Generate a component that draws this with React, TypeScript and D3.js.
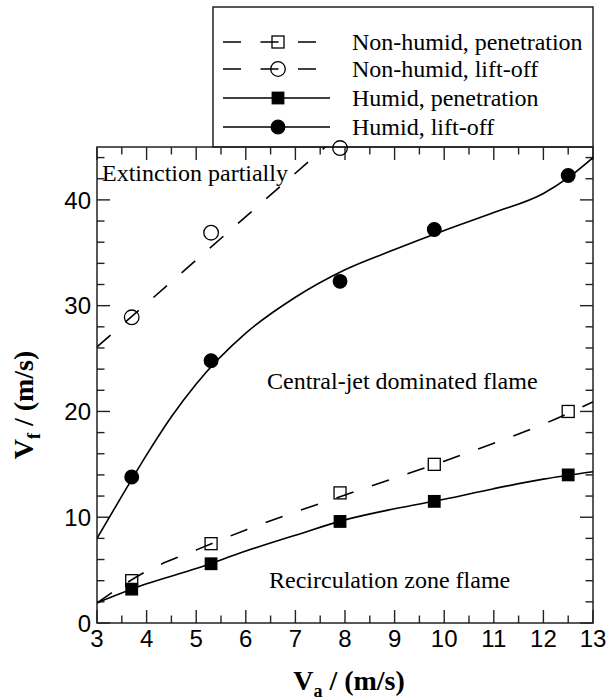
import { useEffect, useRef } from "react";
import * as d3 from "d3";

const WIDTH = 610;
const HEIGHT = 700;
const FRAME = { left: 97, right: 593, top: 147, bottom: 623 };
const LEGEND = { left: 213, top: 7 };

const SERIF = "'Liberation Serif', 'Times New Roman', serif";
const SANS = "'Liberation Sans', Arial, sans-serif";

// measured points (V_a in m/s)
const airVelocity = [3.7, 5.3, 7.9, 9.8, 12.5];
const nonHumidPenetration = [4.0, 7.5, 12.3, 15.0, 20.0];
const nonHumidLiftOff = [28.9, 36.9, 44.9]; // only the first three velocities
const humidPenetration = [3.2, 5.6, 9.6, 11.5, 14.0];
const humidLiftOff = [13.8, 24.8, 32.3, 37.2, 42.3];

// fitted curves
const fitVelocity = [3, 4, 5, 6, 7, 8, 9, 10, 11, 12, 13];
const nonHumidPenetrationFit = [1.9, 4.9, 6.9, 8.8, 10.5, 12.1, 13.7, 15.3, 17.0, 18.8, 20.9];
const humidPenetrationFit = [1.9, 3.7, 5.15, 6.8, 8.3, 9.75, 10.8, 11.7, 12.7, 13.6, 14.3];
const liftOffFitVelocity = [3, 3.5, 4, 4.5, 5, 6, 7, 8, 9, 10, 11, 12, 12.5, 13];
const humidLiftOffFit = [8.0, 12.0, 15.9, 19.5, 22.6, 27.4, 30.8, 33.4, 35.3, 37.1, 38.8, 40.6, 42.1, 44.0];
const nonHumidLineVelocity = [3, 7.7];
const nonHumidLiftOffFit = [26.1, 45.4];

const xMajorTicks = d3.range(3, 14, 1);
const xMinorTicks = d3.range(3.5, 13, 1);
const yMajorTicks = [0, 10, 20, 30, 40];
const yMinorTicks = [2, 4, 6, 8, 12, 14, 16, 18, 22, 24, 26, 28, 32, 34, 36, 38, 42, 44];

const legendLabels = [
  "Non-humid, penetration",
  "Non-humid, lift-off",
  "Humid, penetration",
  "Humid, lift-off",
];
const legendRows = [42, 69, 98, 127];

type Marker = "openSquare" | "openCircle" | "square" | "circle";
const series: { ys: number[]; marker: Marker; dashed: boolean }[] = [
  { ys: nonHumidPenetration, marker: "openSquare", dashed: true },
  { ys: nonHumidLiftOff, marker: "openCircle", dashed: true },
  { ys: humidPenetration, marker: "square", dashed: false },
  { ys: humidLiftOff, marker: "circle", dashed: false },
];
const DASH = "18,19.5";

const drawMarker = (
  g: d3.Selection<SVGGElement, unknown, null, undefined>,
  marker: Marker,
  cx: number,
  cy: number
) => {
  if (marker === "openSquare" || marker === "square") {
    const s = marker === "square" ? 11.5 : 12;
    g.append("rect")
      .attr("x", cx - s / 2)
      .attr("y", cy - s / 2)
      .attr("width", s)
      .attr("height", s)
      .attr("fill", marker === "square" ? "#000" : "none")
      .attr("stroke", "#000")
      .attr("stroke-width", 1.3);
  } else {
    g.append("circle")
      .attr("cx", cx)
      .attr("cy", cy)
      .attr("r", marker === "circle" ? 6.8 : 7.3)
      .attr("fill", marker === "circle" ? "#000" : "none")
      .attr("stroke", "#000")
      .attr("stroke-width", 1.3);
  }
};

const App = () => {
  const svgRef = useRef<SVGSVGElement | null>(null);

  useEffect(() => {
    const svg = d3.select(svgRef.current);
    svg.selectAll("*").remove();

    const x = d3.scaleLinear().domain([3, 13]).range([FRAME.left, FRAME.right]);
    const y = d3.scaleLinear().domain([0, 45]).range([FRAME.bottom, FRAME.top]);

    svg.append("rect").attr("width", WIDTH).attr("height", HEIGHT).attr("fill", "#fff");

    // legend box sits on top of the frame
    const legend = svg.append("g");
    legend
      .append("rect")
      .attr("x", LEGEND.left)
      .attr("y", LEGEND.top)
      .attr("width", FRAME.right - LEGEND.left)
      .attr("height", FRAME.top - LEGEND.top)
      .attr("fill", "#fff")
      .attr("stroke", "#222")
      .attr("stroke-width", 1.5);

    legendLabels.forEach((label, i) => {
      const ry = legendRows[i];
      legend
        .append("line")
        .attr("x1", 223)
        .attr("x2", 330)
        .attr("y1", ry)
        .attr("y2", ry)
        .attr("stroke", "#000")
        .attr("stroke-width", 1.6)
        .attr("stroke-dasharray", series[i].dashed ? DASH : null);
      drawMarker(legend, series[i].marker, 278, ry);
      const t = legend
        .append("text")
        .attr("x", 352)
        .attr("y", ry + 8)
        .attr("font-family", SERIF)
        .attr("font-size", 24)
        .text(label);
      // keep the longest entry inside the box like the original
      const w = (t.node() as SVGTextElement).getComputedTextLength();
      if (i === 0 && w > 232) t.attr("font-size", (24 * 231) / w);
    });

    // frame
    svg
      .append("rect")
      .attr("x", FRAME.left)
      .attr("y", FRAME.top)
      .attr("width", FRAME.right - FRAME.left)
      .attr("height", FRAME.bottom - FRAME.top)
      .attr("fill", "none")
      .attr("stroke", "#222")
      .attr("stroke-width", 1.5);

    const ticks = svg.append("g").attr("stroke", "#222").attr("stroke-width", 1.4);
    const xTick = (vals: number[], len: number) => {
      vals.forEach((v) => {
        ticks.append("line").attr("x1", x(v)).attr("x2", x(v)).attr("y1", FRAME.bottom).attr("y2", FRAME.bottom - len);
        ticks.append("line").attr("x1", x(v)).attr("x2", x(v)).attr("y1", FRAME.top).attr("y2", FRAME.top + len);
      });
    };
    const yTick = (vals: number[], len: number) => {
      vals.forEach((v) => {
        ticks.append("line").attr("y1", y(v)).attr("y2", y(v)).attr("x1", FRAME.left).attr("x2", FRAME.left + len);
        ticks.append("line").attr("y1", y(v)).attr("y2", y(v)).attr("x1", FRAME.right).attr("x2", FRAME.right - len);
      });
    };
    xTick(xMajorTicks, 13);
    xTick(xMinorTicks, 7.5);
    yTick(yMajorTicks, 13);
    yTick(yMinorTicks, 7.5);

    svg
      .append("g")
      .selectAll("text")
      .data(xMajorTicks)
      .join("text")
      .attr("x", (d) => x(d))
      .attr("y", 647)
      .attr("text-anchor", "middle")
      .attr("font-family", SANS)
      .attr("font-size", 24)
      .text((d) => d);

    svg
      .append("g")
      .selectAll("text")
      .data(yMajorTicks)
      .join("text")
      .attr("x", 91)
      .attr("y", (d) => y(d))
      .attr("dy", "0.36em")
      .attr("text-anchor", "end")
      .attr("font-family", SANS)
      .attr("font-size", 24)
      .text((d) => d);

    // axis titles
    const xTitle = svg
      .append("text")
      .attr("x", (FRAME.left + FRAME.right) / 2 + 4)
      .attr("y", 690)
      .attr("text-anchor", "middle")
      .attr("font-family", SERIF)
      .attr("font-weight", "bold")
      .attr("font-size", 28);
    xTitle.append("tspan").text("V");
    xTitle.append("tspan").attr("font-size", 18).attr("dy", 7).text("a");
    xTitle.append("tspan").attr("dy", -7).text(" / (m/s)");

    const yTitle = svg
      .append("text")
      .attr("transform", "translate(33, 405) rotate(-90)")
      .attr("text-anchor", "middle")
      .attr("font-family", SERIF)
      .attr("font-weight", "bold")
      .attr("font-size", 28);
    yTitle.append("tspan").text("V");
    yTitle.append("tspan").attr("font-size", 18).attr("dy", 7).text("f");
    yTitle.append("tspan").attr("dy", -7).text(" / (m/s)");

    // annotations
    const notes = [
      { text: "Extinction partially", x: 102, y: 181 },
      { text: "Central-jet dominated flame", x: 267, y: 389 },
      { text: "Recirculation zone flame", x: 269, y: 588 },
    ];
    svg
      .append("g")
      .selectAll("text")
      .data(notes)
      .join("text")
      .attr("x", (d) => d.x)
      .attr("y", (d) => d.y)
      .attr("font-family", SERIF)
      .attr("font-size", 24)
      .text((d) => d.text);

    // fitted curves, clipped to the frame
    svg
      .append("clipPath")
      .attr("id", "plot-clip")
      .append("rect")
      .attr("x", FRAME.left)
      .attr("y", FRAME.top)
      .attr("width", FRAME.right - FRAME.left)
      .attr("height", FRAME.bottom - FRAME.top);

    const line = d3
      .line<[number, number]>()
      .x((d) => x(d[0]))
      .y((d) => y(d[1]))
      .curve(d3.curveMonotoneX);

    const fits = [
      { xs: fitVelocity, ys: nonHumidPenetrationFit, dashed: true },
      { xs: nonHumidLineVelocity, ys: nonHumidLiftOffFit, dashed: true },
      { xs: fitVelocity, ys: humidPenetrationFit, dashed: false },
      { xs: liftOffFitVelocity, ys: humidLiftOffFit, dashed: false },
    ];
    const curves = svg.append("g").attr("clip-path", "url(#plot-clip)");
    fits.forEach((f) => {
      curves
        .append("path")
        .attr("d", line(f.xs.map((v, i) => [v, f.ys[i]] as [number, number])))
        .attr("fill", "none")
        .attr("stroke", "#000")
        .attr("stroke-width", 1.6)
        .attr("stroke-dasharray", f.dashed ? DASH : null);
    });

    // measured points
    const points = svg.append("g");
    series.forEach((s) => {
      s.ys.forEach((v, i) => drawMarker(points, s.marker, x(airVelocity[i]), y(v)));
    });
  }, []);

  return (
    <svg
      ref={svgRef}
      width={WIDTH}
      height={HEIGHT}
      style={{ position: "absolute", left: 0, top: 0 }}
    />
  );
};

export default App;
